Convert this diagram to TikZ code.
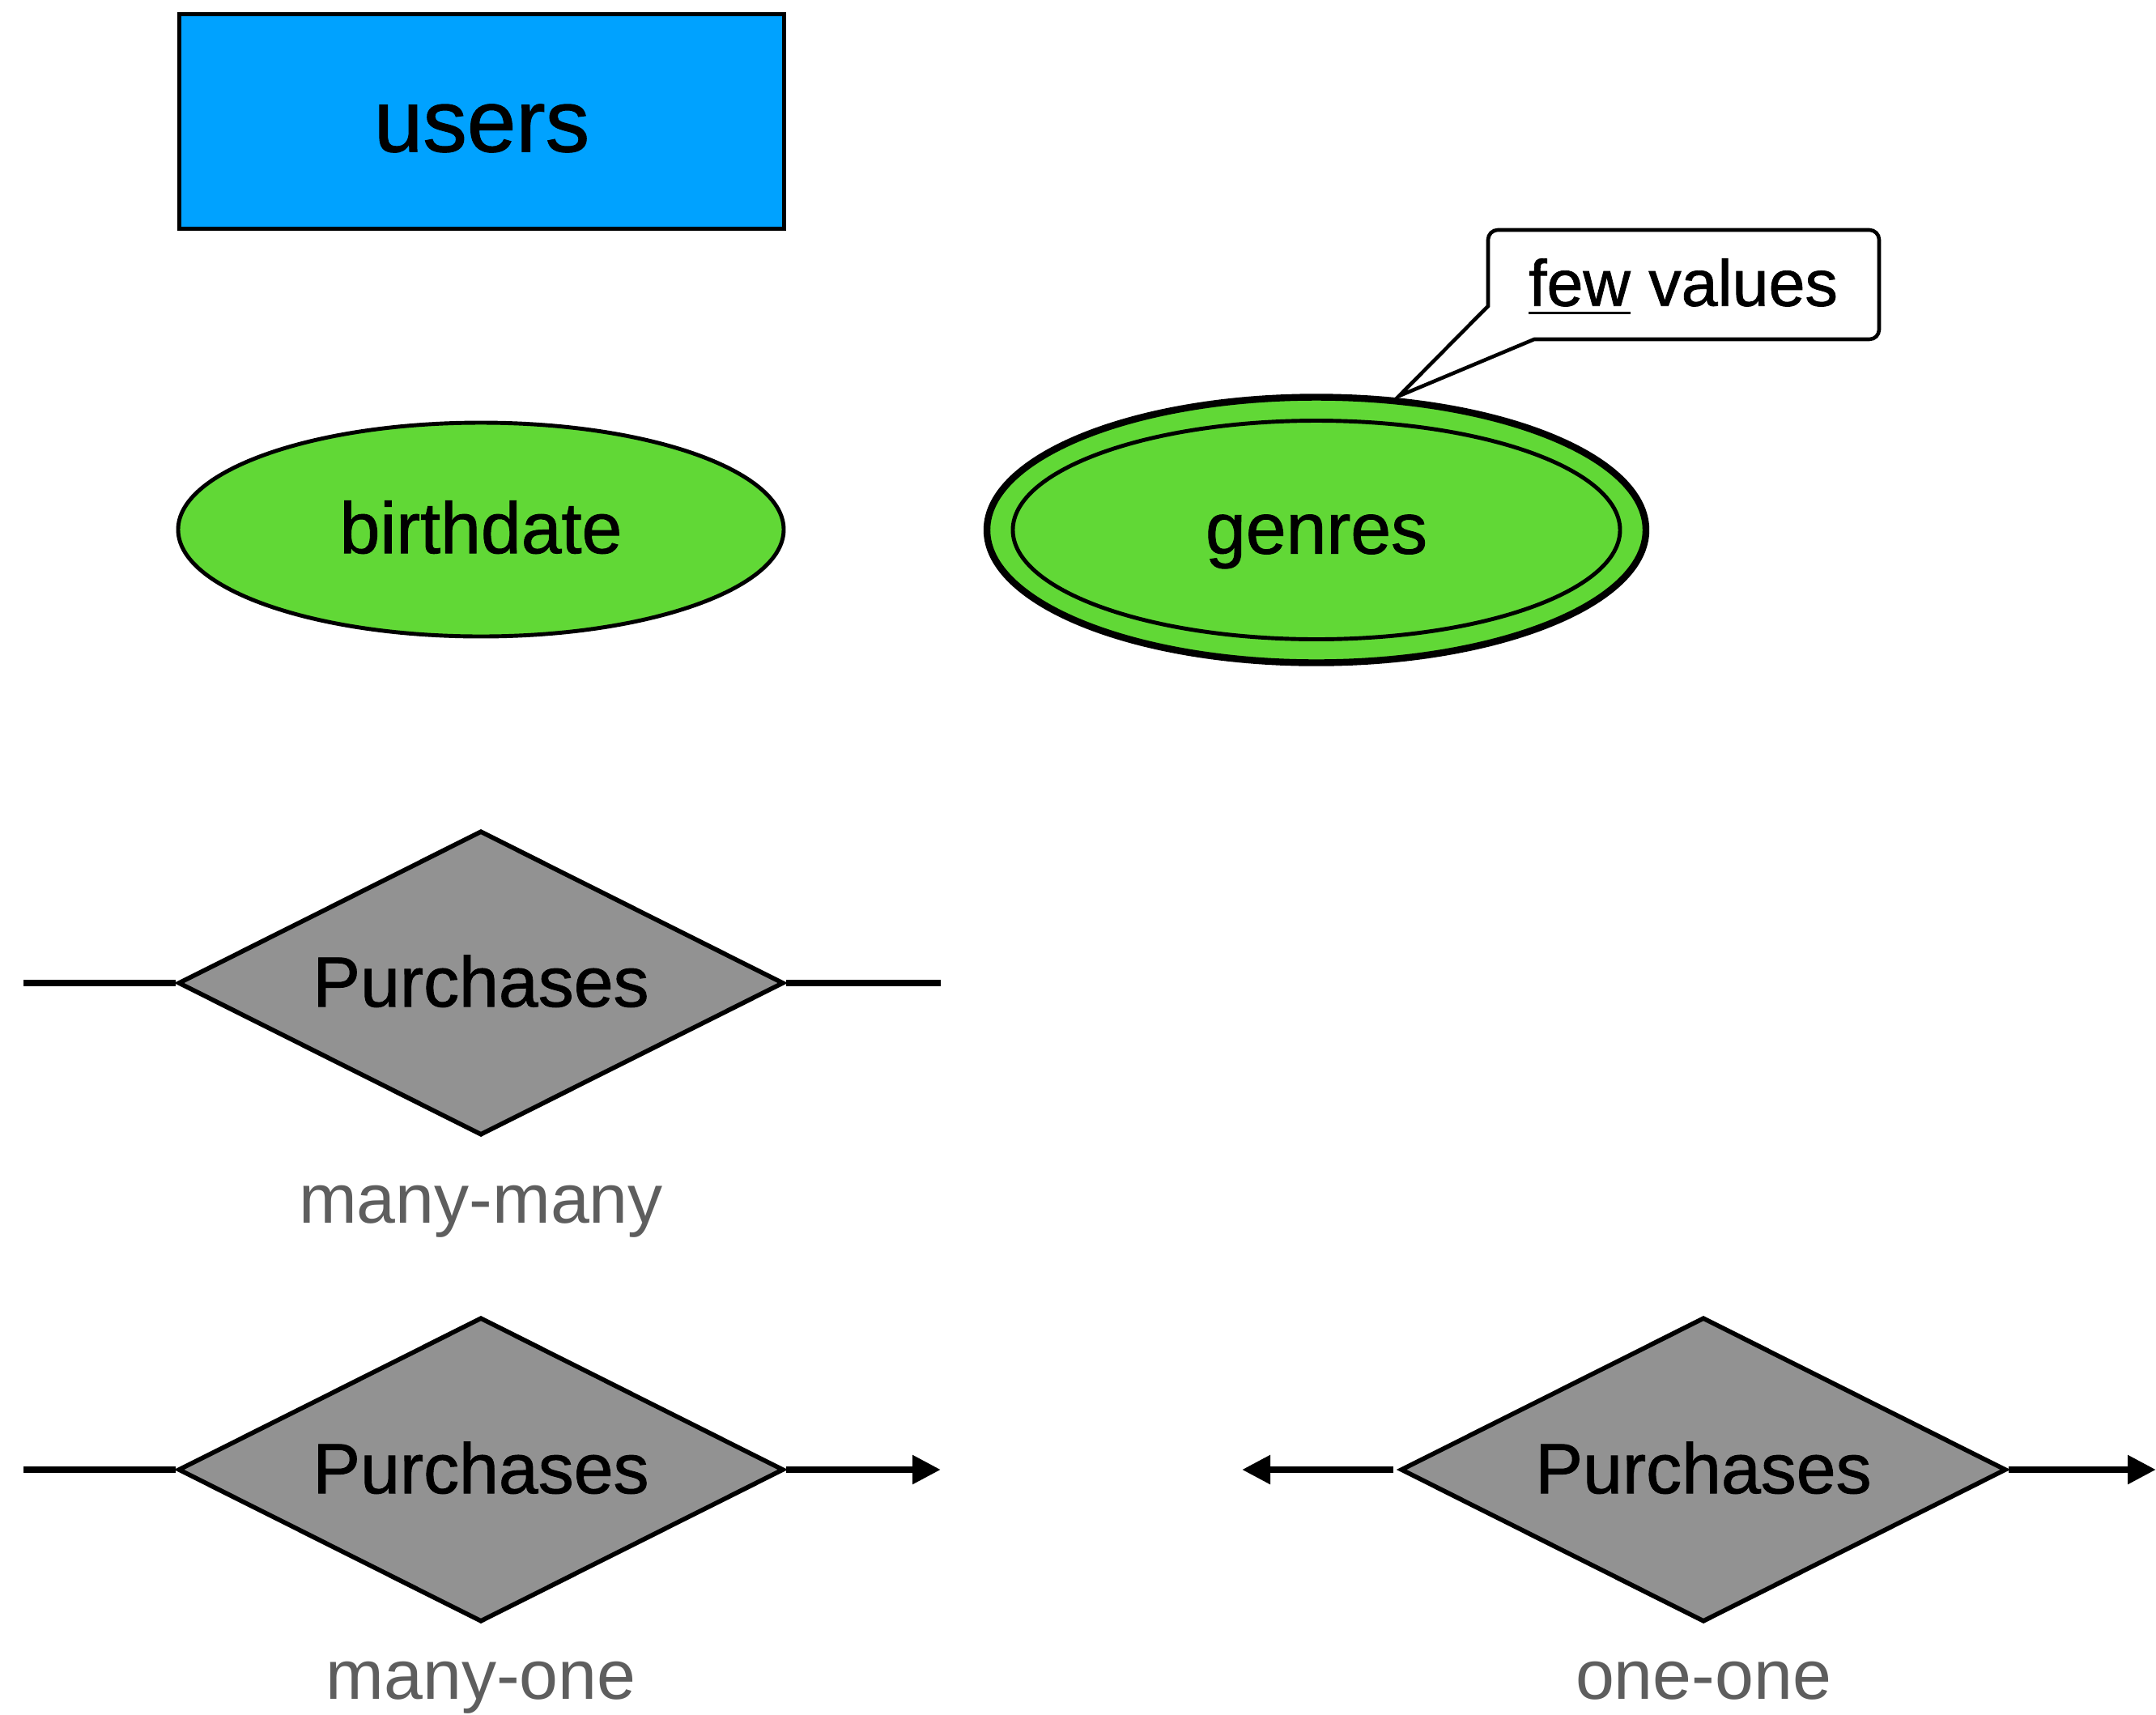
\documentclass[tikz,border=0pt]{standalone}
\usepackage{fontspec}
\setmainfont{Liberation Sans}
\newfontfamily\medium{Liberation Sans}[FakeBold=1]
\usetikzlibrary{shapes.geometric, arrows.meta}
\definecolor{entityblue}{HTML}{00A2FF}
\definecolor{attrgreen}{HTML}{61D836}
\definecolor{relgray}{HTML}{929292}
\definecolor{kindgray}{HTML}{5E5E5E}
\newcommand{\thickul}[1]{\vtop{\hbox{#1}\kern1.9pt\hrule height 0.9pt}}

\begin{document}
\begin{tikzpicture}[
  entity/.style={draw, fill=entityblue, line width=1.6pt, minimum width=7.47cm, minimum height=2.65cm, text height=23.6pt, text depth=2.4pt, font=\medium\fontsize{31}{36}\selectfont},
  attr/.style={ellipse, draw, fill=attrgreen, line width=1.4pt, minimum width=7.48cm, minimum height=2.64cm, inner sep=0pt, text height=18.8pt, text depth=2.2pt, font=\medium\fontsize{25.5}{30}\selectfont},
  rel/.style={diamond, aspect=2, draw, fill=relgray, line width=1.6pt, minimum width=7.48cm, minimum height=3.76cm, inner sep=0pt, text height=18.8pt, text depth=2.2pt, font=\medium\fontsize{25}{30}\selectfont},
  kind/.style={text=kindgray, anchor=base, font=\fontsize{24.5}{30}\selectfont},
  link/.style={line width=2.4pt},
  arr/.style={line width=2.4pt, -{Triangle[length=0.35cm, width=0.34cm]}}
]
\useasboundingbox (0,0) rectangle (26.63,-21.18);

\node[entity] (users) at (5.95,-1.5) {users}; % entity
\node[attr] (birthdate) at (5.94,-6.54) {birthdate};
\node[attr, minimum width=8.14cm, minimum height=3.28cm, line width=2.4pt] (genresOut) at (16.26,-6.545) {}; % multivalued
\node[attr, minimum width=7.5cm, minimum height=2.7cm] (genres) at (genresOut) {genres};

% callout
\node[font=\medium\fontsize{23}{28}\selectfont, text height=17.3pt, text depth=2.1pt] (fewNote) at (20.79,-3.51) {\thickul{few} values};
\draw[line width=1.3pt] (20.5,-2.84) [rounded corners=0.12cm] -- (18.38,-2.84) [sharp corners] -- (18.38,-3.78) -- (17.28,-4.89) -- (18.95,-4.19) [rounded corners=0.12cm] -- (23.21,-4.19) -- (23.21,-2.84) -- cycle;

% relationships
\node[rel] (buys) at (5.94,-12.14) {Purchases};
\node[rel] (buysMo) at (5.94,-18.15) {Purchases};
\node[rel] (buysOo) at (21.04,-18.15) {Purchases};

\coordinate (mmL) at (0.29,-12.14);
\coordinate (mmR) at (11.62,-12.14);
\coordinate (moL) at (0.29,-18.15);
\coordinate (moR) at (11.62,-18.15);
\coordinate (ooL) at (15.34,-18.15);
\coordinate (ooR) at (26.63,-18.15);

\draw[link] (mmL) -- (buys.west);
\draw[link] (buys.east) -- (mmR);
\draw[link] (moL) -- (buysMo.west);
\draw[arr] (buysMo.east) -- (moR);
\draw[arr, shorten <=0.06cm] (buysOo.west) -- (ooL);
\draw[arr] (buysOo.east) -- (ooR);

\node[kind] (mmKind) at (5.94,-15.10) {many-many};
\node[kind] (moKind) at (5.94,-20.98) {many-one};
\node[kind] (ooKind) at (21.04,-20.98) {one-one};
\end{tikzpicture}
\end{document}
